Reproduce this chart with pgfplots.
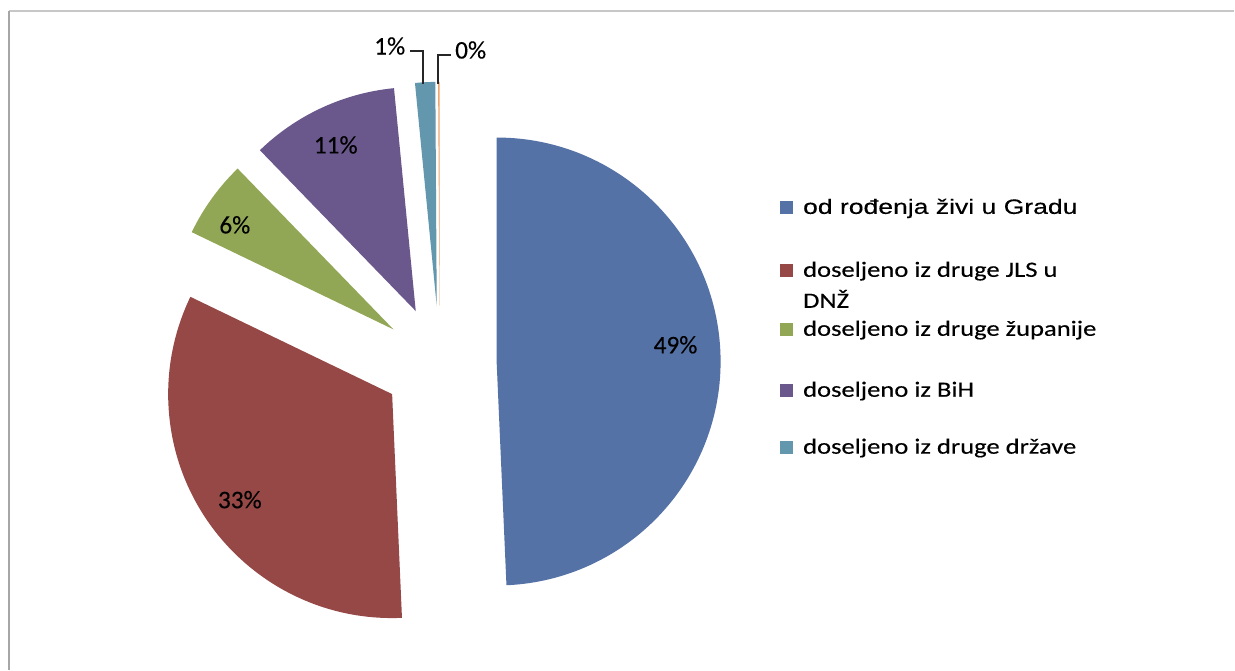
\documentclass[border=0pt]{standalone}
\usepackage{pgfplots}
\pgfplotsset{compat=1.18}
\usepackage{pgfplotstable}
\usepackage{fontspec}
\setmainfont{Carlito}[FakeBold=0.25]
\newfontfamily\lblfont[FakeBold=0.3]{Carlito}
\newfontfamily\legfont[FakeStretch=1.22,FakeBold=0.3]{Carlito}
\newfontfamily\arialw[FakeStretch=1.28,FakeBold=0.3]{Liberation Sans}

\definecolor{pie0}{HTML}{5572A6}
\definecolor{pie1}{HTML}{954846}
\definecolor{pie2}{HTML}{91A756}
\definecolor{pie3}{HTML}{6A578C}
\definecolor{pie4}{HTML}{6397AD}
\definecolor{pie5}{HTML}{EDA56C}

% shares in percent, clockwise from 12 o'clock
\pgfplotstableread{
share
49.3
32.85
5.6
10.7
1.45
0.1
}\piedata

\def\cum{0}%
\foreach \i in {0,...,5}{%
  \pgfplotstablegetelem{\i}{share}\of\piedata
  \pgfmathsetmacro\sa{90-3.6*\cum}%
  \pgfmathsetmacro\cumn{\cum+\pgfplotsretval}%
  \pgfmathsetmacro\ea{90-3.6*\cumn}%
  \pgfmathsetmacro\ma{(\sa+\ea)/2}%
  \pgfmathsetmacro\ax{440+57*cos(\ma)}%
  \pgfmathsetmacro\ay{363-57*sin(\ma)}%
  \expandafter\xdef\csname pieS\i\endcsname{\sa}%
  \expandafter\xdef\csname pieE\i\endcsname{\ea}%
  \expandafter\xdef\csname pieX\i\endcsname{\ax}%
  \expandafter\xdef\csname pieY\i\endcsname{\ay}%
  \xdef\cum{\cumn}%
}%

\begin{document}
\begin{tikzpicture}
\begin{axis}[x=0.01cm, y=0.01cm, y dir=reverse,
  xmin=0, xmax=1235, ymin=0, ymax=670,
  hide axis, clip=false]
  \fill[white] (axis cs:0,0) rectangle (axis cs:1235,670);
  % border (top and left)
  \draw[color=black!22, line width=0.018cm] (axis cs:9,11) -- (axis cs:1235,11);
  \draw[color=black!35, line width=0.018cm] (axis cs:9,11) -- (axis cs:9,670);
  % slices
  \pgfplotsinvokeforeach{0,...,5}{%
    \fill[fill=pie#1] (axis cs:\csname pieX#1\endcsname,\csname pieY#1\endcsname)
      -- ++(\csname pieS#1\endcsname:2.24cm)
      arc[start angle=\csname pieS#1\endcsname, end angle=\csname pieE#1\endcsname, radius=2.24cm]
      -- cycle;
  }
  % percent labels
  \tikzset{pl/.style={font=\lblfont\fontsize{7.2}{8.5}\selectfont, inner sep=0pt}}
  \node[pl] at (axis cs:676,345) {49\%};
  \node[pl] at (axis cs:240,500) {33\%};
  \node[pl] at (axis cs:235,225) {6\%};
  \node[pl] at (axis cs:336,145) {11\%};
  \node[pl] at (axis cs:390,46) {1\%};
  \node[pl] at (axis cs:471,50) {0\%};
  % leader lines
  \draw[black!85, line width=0.02cm] (axis cs:423,84) -- (axis cs:423,51) -- (axis cs:410,51);
  \draw[black!85, line width=0.02cm] (axis cs:438,84) -- (axis cs:438,55) -- (axis cs:451,55);
  % legend
  \tikzset{lt/.style={font=\legfont\fontsize{6.2}{7}\selectfont, anchor=base west, inner sep=0pt}}
  \fill[pie0] (axis cs:781,201) rectangle (axis cs:794,214);
  \node[font=\arialw\fontsize{5.9}{7}\selectfont, anchor=base west, inner sep=0pt] at (axis cs:803,214) {od rođenja živi u Gradu};
  \fill[pie1] (axis cs:781,264) rectangle (axis cs:794,277);
  \node[lt] at (axis cs:803,277) {doseljeno iz druge JLS u};
  \node[lt] at (axis cs:803,308) {DNŽ};
  \fill[pie2] (axis cs:781,323) rectangle (axis cs:794,336);
  \node[lt] at (axis cs:803,336) {doseljeno iz druge županije};
  \fill[pie3] (axis cs:781,384) rectangle (axis cs:794,397);
  \node[lt] at (axis cs:803,397) {doseljeno iz BiH};
  \fill[pie4] (axis cs:781,441) rectangle (axis cs:794,454);
  \node[lt] at (axis cs:803,454) {doseljeno iz druge države};
\end{axis}
\end{tikzpicture}
\end{document}
